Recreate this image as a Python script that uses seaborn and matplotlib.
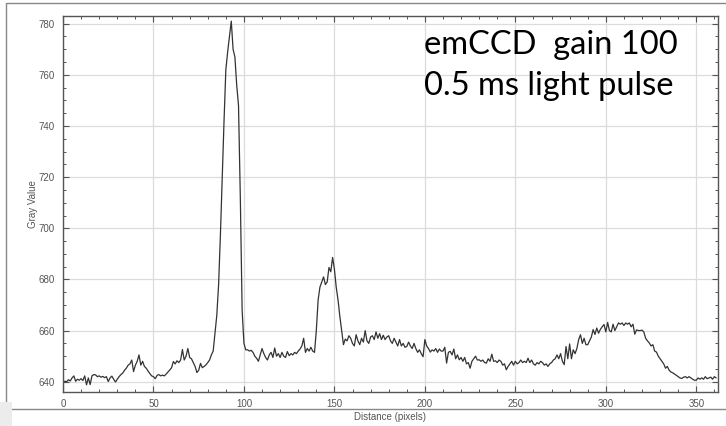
import numpy as np
import pandas as pd
import matplotlib
matplotlib.use("Agg")
import matplotlib.pyplot as plt
import seaborn as sns
from matplotlib.ticker import MultipleLocator
from matplotlib.patches import Rectangle

# ---- data (gray value profile, one value per pixel of distance) ----
gray_value = [
    639.7, 640.2, 640.0, 640.8, 640.3, 641.5, 642.3, 640.2, 641.0, 640.6,
    641.2, 640.5, 642.3, 638.8, 641.5, 638.9, 642.3, 642.8, 642.7, 642.0,
    642.3, 641.8, 642.1, 641.6, 642.0, 640.1, 641.5, 642.2, 641.0, 639.9,
    641.0, 642.0, 642.8, 643.4, 644.5, 645.3, 646.5, 647.0, 648.5, 644.0,
    646.5, 648.0, 650.5, 646.5, 648.0, 646.0, 645.3, 644.2, 643.2, 642.3,
    642.0, 641.2, 642.5, 642.8, 642.3, 642.6, 642.3, 643.0, 643.8, 644.6,
    645.5, 647.9, 647.0, 648.2, 647.5, 648.5, 652.6, 648.5, 650.0, 653.0,
    649.5, 649.0, 647.5, 646.0, 643.6, 644.5, 647.2, 645.5, 646.0, 646.6,
    647.5, 648.5, 650.5, 652.0, 658.8, 666.0, 678.0, 697.5, 720.0, 742.0,
    762.0, 769.0, 775.0, 781.0, 770.0, 767.0, 756.0, 748.0, 712.0, 668.0,
    655.0, 652.5, 652.5, 652.0, 652.3, 651.5, 650.0, 649.2, 648.0, 650.5,
    653.0, 651.0, 649.5, 648.5, 650.5, 651.5, 649.5, 653.2, 650.0, 651.0,
    649.5, 651.5, 650.0, 649.5, 651.8, 650.2, 651.0, 650.5, 651.5, 651.0,
    652.0, 652.8, 654.0, 657.0, 651.5, 653.0, 652.0, 653.5, 652.0, 651.5,
    660.0, 672.0, 677.0, 679.0, 681.0, 678.0, 679.0, 684.7, 683.0, 688.6,
    684.0, 677.0, 672.0, 665.6, 660.0, 654.5, 656.7, 656.0, 658.0, 657.0,
    655.0, 654.0, 658.4, 656.0, 654.5, 657.0, 655.5, 660.0, 656.0, 655.0,
    657.5, 658.0, 656.5, 659.5, 657.0, 658.8, 656.5, 658.2, 656.5, 657.5,
    658.0, 656.0, 655.0, 657.0, 655.5, 654.0, 656.5, 654.0, 655.0, 653.5,
    653.8, 655.5, 654.0, 653.0, 655.0, 653.0, 651.5, 652.5, 651.0, 649.8,
    656.5, 654.0, 653.0, 651.6, 652.5, 652.0, 653.0, 651.5, 652.8, 652.0,
    652.0, 653.5, 647.3, 651.5, 651.9, 650.5, 652.8, 649.0, 650.5, 648.6,
    649.5, 648.0, 649.5, 647.0, 647.5, 645.3, 648.0, 649.0, 650.0, 648.5,
    648.6, 648.0, 648.5, 647.5, 647.3, 649.0, 648.0, 650.8, 648.0, 648.2,
    647.5, 648.5, 648.0, 646.5, 647.0, 644.7, 646.0, 647.0, 648.0, 646.5,
    648.0, 647.0, 647.5, 648.5, 647.5, 648.0, 647.5, 649.2, 647.5, 648.5,
    647.0, 646.5, 647.5, 647.0, 648.0, 647.5, 646.5, 647.0, 646.0, 647.0,
    647.5, 648.5, 649.0, 650.5, 649.0, 651.0, 648.0, 646.7, 653.8, 649.0,
    654.8, 649.0, 652.5, 651.0, 653.0, 656.5, 658.4, 655.0, 657.0, 654.5,
    654.5, 656.0, 657.5, 660.4, 658.5, 661.0, 659.0, 660.5, 661.5, 662.4,
    659.5, 663.2, 660.0, 659.5, 662.5, 660.0, 661.5, 663.0, 662.5, 663.0,
    662.0, 663.0, 662.5, 663.0, 661.5, 662.5, 658.6, 660.3, 660.0, 660.0,
    660.2, 659.5, 657.0, 656.0, 655.2, 654.0, 654.5, 652.0, 651.6, 650.0,
    649.0, 648.0, 647.0, 645.3, 646.0, 644.5, 643.8, 643.5, 643.0, 642.5,
    642.0, 641.5, 641.3, 641.8, 642.0, 641.5, 642.0, 641.5, 641.0, 640.6,
    640.6, 641.5, 641.0, 641.5, 641.0, 642.0, 641.2, 641.5, 641.8, 641.0,
    642.0, 641.5,
]
distance = np.arange(len(gray_value))

x_ticks = [0, 50, 100, 150, 200, 250, 300, 350]
y_ticks = [640, 660, 680, 700, 720, 740, 760, 780]
annotation_lines = ["emCCD  gain 100", "0.5 ms light pulse"]
x_label = "Distance (pixels)"
y_label = "Gray Value"

df = pd.DataFrame({"distance": distance, "gray": gray_value})

# ---- style ----
sns.set_style("ticks")
plt.rcParams["font.family"] = ["Liberation Sans", "DejaVu Sans"]

fig = plt.figure(figsize=(7.26, 4.26), dpi=100)
fig.patch.set_facecolor("white")
ax = fig.add_axes([63 / 726, 1 - 392 / 426, (718 - 63) / 726, (392 - 16) / 426])

sns.lineplot(data=df, x="distance", y="gray", ax=ax, color="#333333",
             linewidth=0.9, estimator=None)

ax.set_xlim(0, 362)
ax.set_ylim(636, 783)
ax.set_xticks(x_ticks)
ax.set_yticks(y_ticks)
ax.xaxis.set_minor_locator(MultipleLocator(10))
ax.yaxis.set_minor_locator(MultipleLocator(5))
ax.grid(True, which="major", color="#dcdcdc", linewidth=0.9)
ax.set_axisbelow(True)

for s in ax.spines.values():
    s.set_color("#555555")
    s.set_linewidth(1.0)
    s.set_visible(True)

ax.tick_params(which="both", direction="in", top=True, right=True,
               colors="#555555", labelcolor="#555555", labelsize=7)
ax.tick_params(which="major", length=4, width=0.8)
ax.tick_params(which="minor", length=2.5, width=0.7)
ax.tick_params(axis="y", pad=6)
ax.tick_params(axis="x", pad=5)

ax.set_xlabel(x_label, fontsize=7, color="#555555", labelpad=2)
ax.set_ylabel(y_label, fontsize=7, color="#555555", labelpad=0)

ax.text((424 - 63) / 655, (392 - 54) / 376, annotation_lines[0],
        transform=ax.transAxes, fontsize=23.5, family=["Lato", "DejaVu Sans"],
        color="black", ha="left", va="baseline")
ax.text((424 - 63) / 655, (392 - 95) / 376, annotation_lines[1],
        transform=ax.transAxes, fontsize=23.5, family=["Lato", "DejaVu Sans"],
        color="black", ha="left", va="baseline")

# outer frame of the figure and the small grey block at lower left
fig.patches.append(Rectangle((6 / 726, 0.04), 1.2, 1 - 3 / 426 - 0.04,
                             transform=fig.transFigure, fill=False,
                             edgecolor="#888888", linewidth=1.0))
fig.patches.append(Rectangle((0, 0), 12 / 726, 24 / 426,
                             transform=fig.transFigure, facecolor="#ececec",
                             edgecolor="none"))

fig.savefig("out.png", dpi=100, facecolor="white")
